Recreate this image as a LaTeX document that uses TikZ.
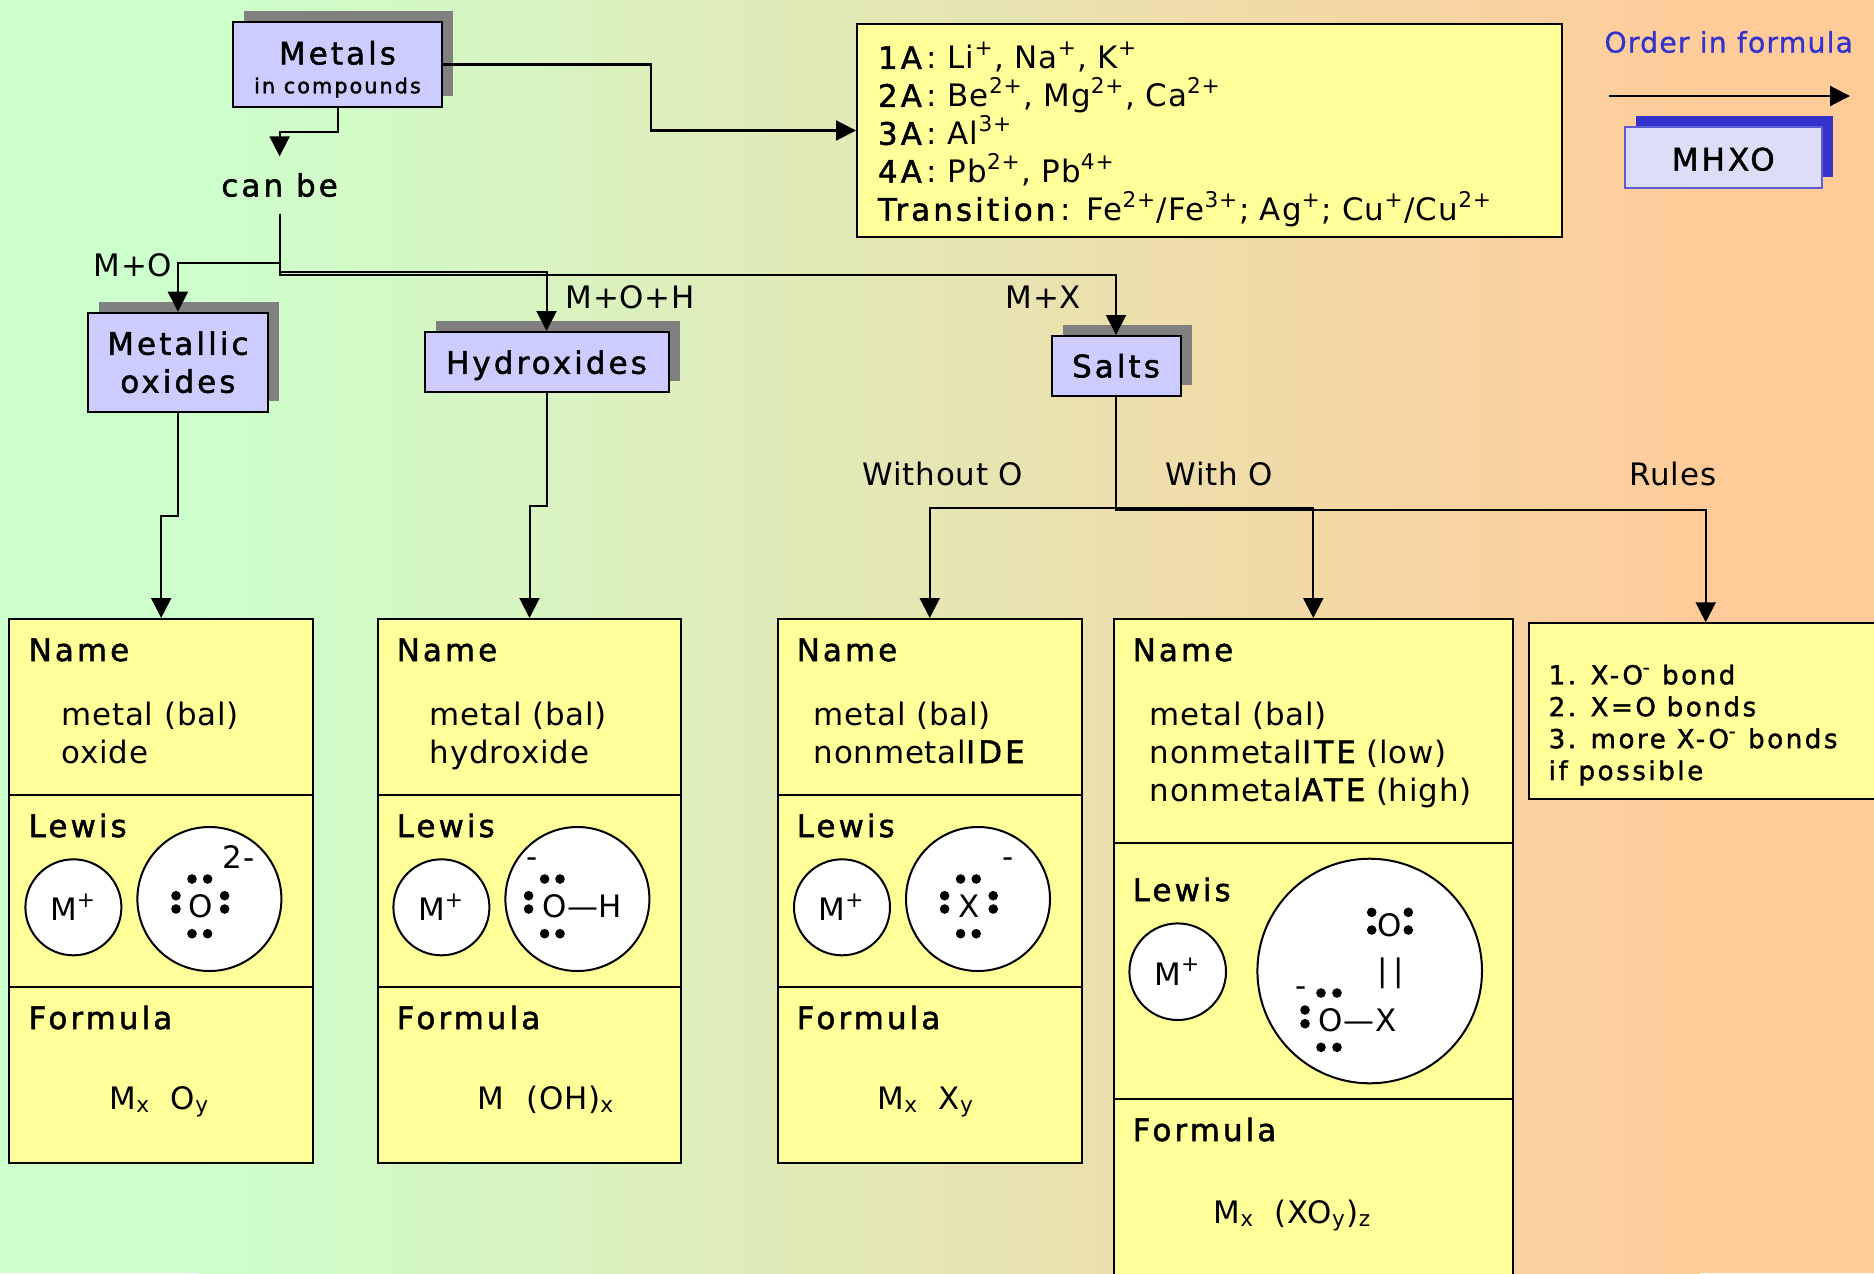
\documentclass[tikz,border=0pt]{standalone}
\usepackage{fontspec}
\usetikzlibrary{arrows.meta,shadows}
\setmainfont{DejaVu Sans}[LetterSpace=2.5]
\newfontfamily\headfont[LetterSpace=10,FakeBold=1.6]{DejaVu Sans}
\newcommand{\basesize}{\fontsize{8.8}{10.8}\selectfont}
\newcommand{\rulesize}{\fontsize{7.4}{9.08}\selectfont}
\newcommand{\grouptag}[1]{{\headfont #1}\kern0.05cm: }
\definecolor{bgleft}{RGB}{204,255,204}
\definecolor{bgright}{RGB}{255,204,153}
\definecolor{cellfill}{RGB}{255,255,153}
\definecolor{titlefill}{RGB}{204,204,255}
\definecolor{titleshadow}{RGB}{128,128,128}
\definecolor{orderblue}{RGB}{51,51,204}
\definecolor{orderfill}{RGB}{221,221,247}
\tikzset{
	conn/.style={draw=black, line width=0.57pt, -{Triangle[length=2mm,width=2mm]}},
	titlebox/.style={draw=black, line width=0.57pt, fill=titlefill, inner sep=0pt, align=center, font=\basesize\headfont, general shadow={fill=titleshadow, shadow xshift=0.11cm, shadow yshift=0.11cm}},
	cell/.style={draw=black, line width=0.57pt, fill=cellfill, inner sep=0pt},
	ion/.style={circle, draw=black, line width=0.57pt, fill=white, inner sep=0pt, font=\basesize},
	plain/.style={inner sep=0pt, font=\basesize, anchor=base west},
	head/.style={inner sep=0pt, font=\basesize\headfont, anchor=base west},
	body/.style={inner sep=0pt, font=\basesize, anchor=base west, align=left},
}
\begin{document}
\begin{tikzpicture}
	\useasboundingbox (0,0) rectangle (18.74,-12.73);
	\clip (0,0) rectangle (18.74,-12.73);
	\fill [bgleft] (0,0) rectangle (2.01,-12.73);
	\fill [bgright] (16.99,0) rectangle (18.74,-12.73);
	\shade [left color=bgleft, right color=bgright] (2,0) rectangle (17,-12.73);

	\node (metals) at (3.375,-0.645) [titlebox, minimum width=2.09cm, minimum height=0.85cm] {\rule{0pt}{0.33cm}Metals\\[-2.6pt]{\fontsize{5.9}{7}\selectfont in compounds}};
	\node (canbe) at (2.796,-1.85) [font=\basesize\headfont, inner xsep=0pt, inner ysep=0.16cm] {can be};
	\node (metallic) at (1.779,-3.622) [titlebox, minimum width=1.80cm, minimum height=0.99cm] {Metallic\\oxides};
	\node (hydroxides) at (5.465,-3.62) [titlebox, minimum width=2.44cm, minimum height=0.60cm, text depth=0pt] {Hydroxides};
	\node (salts) at (11.16,-3.658) [titlebox, minimum width=1.29cm, minimum height=0.596cm] {Salts};
	\node (info) at (12.095,-1.305) [cell, minimum width=7.05cm, minimum height=2.13cm, text width=6.63cm, inner xsep=0.21cm, align=left, font=\basesize\addfontfeatures{LetterSpace=3.5}] {\rule{0pt}{0.35cm}\grouptag{1A}Li\textsuperscript{+}, Na\textsuperscript{+}, K\textsuperscript{+}\\
		\grouptag{2A}Be\textsuperscript{2+}, Mg\textsuperscript{2+}, Ca\textsuperscript{2+}\\
		\grouptag{3A}Al\textsuperscript{3+}\\
		\grouptag{4A}Pb\textsuperscript{2+}, Pb\textsuperscript{4+}\\
		\grouptag{Transition}Fe\textsuperscript{2+}/Fe\textsuperscript{3+}; Ag\textsuperscript{+}; Cu\textsuperscript{+}/Cu\textsuperscript{2+}};

	\node (order) at (17.287,-0.42) [inner sep=0pt, text=orderblue, font=\fontsize{8.07}{10}\selectfont\addfontfeatures{LetterSpace=4,FakeBold=0.8}] {Order in formula};
	\coordinate (orderA) at (16.09,-0.96);
	\coordinate (orderB) at (18.5,-0.96);
	\draw [conn] (orderA) -- (orderB);
	\node (mhxo) at (17.233,-1.575) [draw=orderblue!80!white, line width=0.57pt, fill=orderfill, inner sep=0pt, minimum width=1.967cm, minimum height=0.61cm, text height=0.26cm, text depth=0pt, font=\basesize\headfont, general shadow={fill=orderblue, shadow xshift=0.11cm, shadow yshift=0.11cm}] {MHXO};

	\node (nameA) at (1.612,-7.07) [cell, minimum width=3.036cm, minimum height=1.76cm] {};
	\node (lewisA) at (1.612,-8.91) [cell, minimum width=3.036cm, minimum height=1.92cm] {};
	\node (formulaA) at (1.612,-10.75) [cell, minimum width=3.036cm, minimum height=1.76cm] {};
	\node (nameB) at (5.295,-7.07) [cell, minimum width=3.036cm, minimum height=1.76cm] {};
	\node (lewisB) at (5.295,-8.91) [cell, minimum width=3.036cm, minimum height=1.92cm] {};
	\node (formulaB) at (5.295,-10.75) [cell, minimum width=3.036cm, minimum height=1.76cm] {};
	\node (nameC) at (9.2975,-7.07) [cell, minimum width=3.036cm, minimum height=1.76cm] {};
	\node (lewisC) at (9.2975,-8.91) [cell, minimum width=3.036cm, minimum height=1.92cm] {};
	\node (formulaC) at (9.2975,-10.75) [cell, minimum width=3.036cm, minimum height=1.76cm] {};
	\node (nameD) at (13.1325,-7.31) [cell, minimum width=3.995cm, minimum height=2.24cm] {};
	\node (lewisD) at (13.1325,-9.71) [cell, minimum width=3.995cm, minimum height=2.56cm] {};
	\node (formulaD) at (13.1325,-12.145) [cell, minimum width=3.995cm, minimum height=2.31cm] {};
	\node (rules) at (17.057,-7.1115) [cell, minimum width=3.528cm, minimum height=1.757cm] {};

	\draw [conn] (metals.south) -- ++(0,-0.235) -| (canbe.north);
	\draw [conn] (metals.east) -- ++(2.08,0) |- (info.west);
	\draw [conn] (canbe.south) -- ++(0,-0.49) -| (metallic.north);
	\draw [conn] (canbe.south) -- ++(0,-0.585) -| (hydroxides.north);
	\draw [conn] (canbe.south) -- ++(0,-0.61) -| (salts.north);
	\draw [conn] (metallic.south) -- ++(0,-1.03) -| (nameA.north);
	\draw [conn] (hydroxides.south) -- ++(0,-1.125) -| (nameB.north);
	\draw [conn] (salts.south) -- ++(0,-1.11) -| (nameC.north);
	\draw [conn] (salts.south) -- ++(0,-1.11) -| (nameD.north);
	\draw [conn] (salts.south) -- ++(0,-1.135) -| (rules.north);

	\node (labelMO) at (0.93,-2.76) [plain] {M+O};
	\node (labelMOH) at (5.65,-3.08) [plain] {M+O+H};
	\node (labelMX) at (10.05,-3.08) [plain] {M+X};
	\node (labelWithout) at (8.62,-4.85) [plain] {Without O};
	\node (labelWith) at (11.65,-4.85) [plain] {With O};
	\node (labelRules) at (16.29,-4.85) [plain] {Rules};

	\node (headNameA) at (0.28,-6.61) [head] {Name};
	\node (bodyNameA) at (0.61,-7.63) [body] {metal (bal)\\oxide};
	\node (headLewisA) at (0.28,-8.37) [head] {Lewis};
	\node (ionMA) at (0.734,-9.073) [ion, minimum size=0.96cm] {M\textsuperscript{+}};
	\node (ionOA) at (2.094,-8.99) [ion, minimum size=1.44cm] {};
	\node (chemOA) at (2.004,-9.17) [plain, anchor=base] {O};
	\node (chargeA) at (2.22,-8.68) [plain] {2-};
	\foreach \dotx/\doty in {1.92/8.79,2.076/8.79,1.76/8.957,1.76/9.09,2.246/8.957,2.246/9.09,1.92/9.337,2.076/9.337}
		\fill (\dotx,-\doty) circle (0.048);
	\node (headFormulaA) at (0.28,-10.29) [head] {Formula};
	\node (bodyFormulaA) at (1.09,-11.09) [body] {M\textsubscript{x}\hspace{0.2cm}O\textsubscript{y}};

	\node (headNameB) at (3.96,-6.61) [head] {Name};
	\node (bodyNameB) at (4.29,-7.63) [body] {metal (bal)\\hydroxide};
	\node (headLewisB) at (3.96,-8.37) [head] {Lewis};
	\node (ionMB) at (4.414,-9.073) [ion, minimum size=0.96cm] {M\textsuperscript{+}};
	\node (ionOB) at (5.774,-8.99) [ion, minimum size=1.44cm] {};
	\node (chemOB) at (5.415,-9.17) [plain] {O—H};
	\node (chargeB) at (5.26,-8.67) [plain] {-};
	\foreach \dotx/\doty in {5.446/8.79,5.60/8.79,5.286/8.957,5.286/9.09,5.446/9.337,5.60/9.337}
		\fill (\dotx,-\doty) circle (0.048);
	\node (headFormulaB) at (3.96,-10.29) [head] {Formula};
	\node (bodyFormulaB) at (4.77,-11.09) [body] {M\hspace{0.22cm}(OH)\textsubscript{x}};

	\node (headNameC) at (7.96,-6.61) [head] {Name};
	\node (bodyNameC) at (8.13,-7.63) [body] {metal (bal)\\nonmetal{\headfont IDE}};
	\node (headLewisC) at (7.96,-8.37) [head] {Lewis};
	\node (ionMC) at (8.42,-9.073) [ion, minimum size=0.96cm] {M\textsuperscript{+}};
	\node (ionXC) at (9.78,-8.99) [ion, minimum size=1.44cm] {};
	\node (chemXC) at (9.69,-9.17) [plain, anchor=base] {X};
	\node (chargeC) at (10.02,-8.67) [plain] {-};
	\foreach \dotx/\doty in {9.606/8.79,9.762/8.79,9.446/8.957,9.446/9.09,9.932/8.957,9.932/9.09,9.606/9.337,9.762/9.337}
		\fill (\dotx,-\doty) circle (0.048);
	\node (headFormulaC) at (7.96,-10.29) [head] {Formula};
	\node (bodyFormulaC) at (8.77,-11.09) [body] {M\textsubscript{x}\hspace{0.2cm}X\textsubscript{y}};

	\node (headNameD) at (11.32,-6.61) [head] {Name};
	\node (bodyNameD) at (11.49,-8.01) [body] {metal (bal)\\nonmetal{\headfont ITE} (low)\\nonmetal{\headfont ATE} (high)};
	\node (headLewisD) at (11.32,-9.01) [head] {Lewis};
	\node (ionMD) at (11.777,-9.717) [ion, minimum size=0.966cm] {M\textsuperscript{+}};
	\node (ionXD) at (13.697,-9.71) [ion, minimum size=2.246cm] {};
	\node (chemOD) at (13.90,-9.25) [inner sep=0pt, font=\basesize] {O};
	\node (bondD) at (13.905,-9.73) [inner sep=0pt, font=\basesize] {|\,|};
	\node (chemXD) at (13.18,-10.317) [plain] {O—X};
	\node (chargeD) at (12.95,-9.96) [plain] {-};
	\foreach \dotx/\doty in {13.717/9.123,13.717/9.30,14.083/9.123,14.083/9.30,13.21/9.93,13.37/9.93,13.05/10.10,13.05/10.237,13.21/10.473,13.37/10.473}
		\fill (\dotx,-\doty) circle (0.048);
	\node (headFormulaD) at (11.32,-11.41) [head] {Formula};
	\node (bodyFormulaD) at (12.13,-12.23) [body] {M\textsubscript{x}\hspace{0.2cm}(XO\textsubscript{y})\textsubscript{z}};

	\node (bodyRules) at (15.48,-7.80) [inner sep=0pt, anchor=base west, align=left, font=\rulesize\headfont] {1. X-O\textsuperscript{-} bond\\2. X=O bonds\\3. more X-O\textsuperscript{-} bonds\\if possible};
\end{tikzpicture}
\end{document}
